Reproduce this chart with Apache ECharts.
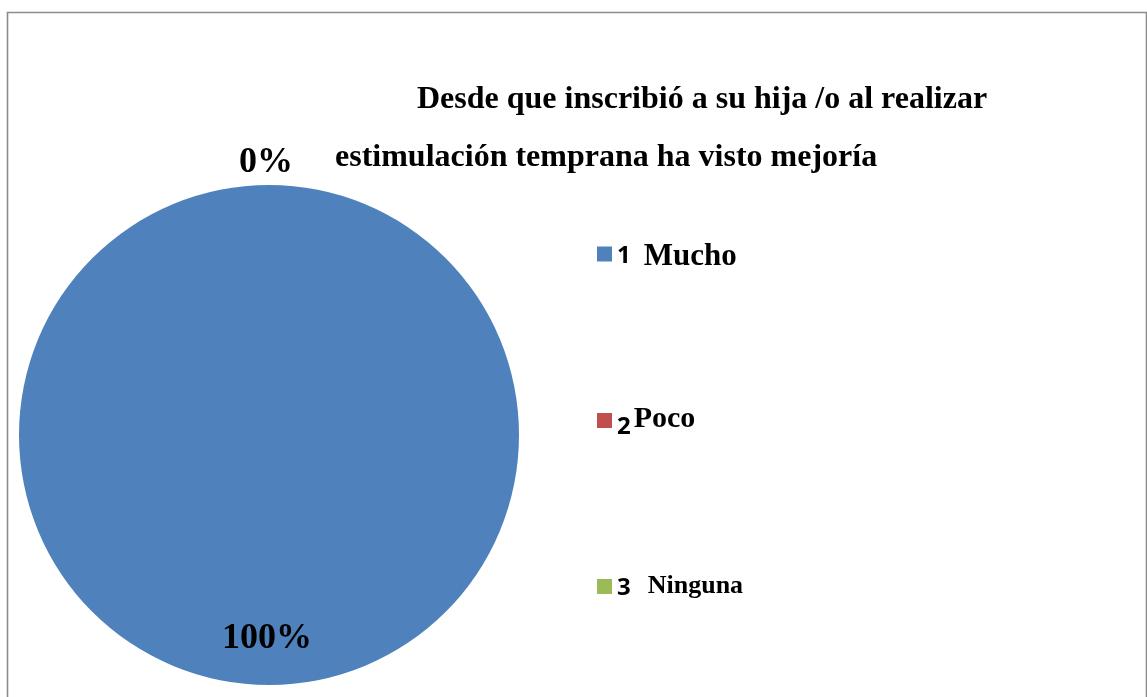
<!DOCTYPE html>
<html>
<head>
<meta charset="utf-8">
<script src="https://cdn.jsdelivr.net/npm/echarts@6/dist/echarts.min.js"></script>
<style>
html,body{margin:0;padding:0;background:#fff;}
#chart{width:1147px;height:697px;}
</style>
</head>
<body>
<div id="chart"></div>
<script>
const categories = ['Mucho', 'Poco', 'Ninguna'];
const numbers = ['1', '2', '3'];
const values = [100, 0, 0];
const colors = ['#4F81BD', '#C0504D', '#9BBB59'];
const titleLines = ['Desde que inscribió a su hija /o al realizar', 'estimulación temprana ha visto mejoría'];

const serif = '"Liberation Serif", "Times New Roman", serif';
const sans = '"Open Sans", "Noto Sans", sans-serif';
const total = values.reduce((a, b) => a + b, 0);

const chart = echarts.init(document.getElementById('chart'));
chart.setOption({
  backgroundColor: '#fff',
  animation: false,
  graphic: [{
    type: 'rect',
    shape: { x: 7.5, y: 12.5, width: 1139, height: 700 },
    style: { fill: 'none', stroke: '#8c8c8c', lineWidth: 1.6 },
    silent: true
  }],
  title: [{
    text: titleLines[0], left: 417, top: 82, padding: 0,
    textStyle: { fontFamily: serif, fontWeight: 'bold', fontSize: 32, lineHeight: 36, color: '#000' }
  }, {
    text: titleLines[1], left: 335, top: 140, padding: 0,
    textStyle: { fontFamily: serif, fontWeight: 'bold', fontSize: 32, lineHeight: 36, color: '#000' }
  }],
  legend: {
    orient: 'vertical',
    left: 597, top: 239,
    padding: 0,
    icon: 'rect',
    itemWidth: 15, itemHeight: 15,
    itemGap: 132,
    selectedMode: false,
    data: categories,
    formatter: function (name) {
      const i = categories.indexOf(name);
      return '{n' + (i + 1) + '|' + numbers[i] + '}{t' + (i + 1) + '|' + name + '}';
    },
    textStyle: {
      lineHeight: 30,
      rich: {
        n1: { fontFamily: sans, fontWeight: 'bold', fontSize: 24, color: '#000', padding: [4, 13, 0, 0] },
        t1: { fontFamily: serif, fontWeight: 'bold', fontSize: 31, color: '#000', padding: [6, 0, 0, 0] },
        n2: { fontFamily: sans, fontWeight: 'bold', fontSize: 24, color: '#000', padding: [14, 3, 0, 0] },
        t2: { fontFamily: serif, fontWeight: 'bold', fontSize: 30, color: '#000', padding: [0, 0, 2, 0] },
        n3: { fontFamily: sans, fontWeight: 'bold', fontSize: 24, color: '#000', padding: [4, 17, 0, 0] },
        t3: { fontFamily: serif, fontWeight: 'bold', fontSize: 26, color: '#000' }
      }
    }
  },
  series: [{
    type: 'pie',
    center: [269, 435],
    radius: 250,
    startAngle: 90,
    clockwise: true,
    avoidLabelOverlap: false,
    color: colors,
    itemStyle: { borderWidth: 0 },
    emphasis: { disabled: true },
    label: {
      show: true,
      position: 'outside',
      formatter: function (p) { return Math.round(p.value / total * 100) + '%'; },
      fontFamily: serif, fontWeight: 'bold', fontSize: 36, color: '#000'
    },
    labelLine: { show: false, length: 25, length2: 0 },
    labelLayout: function (p) {
      if (p.dataIndex === 0) return { dx: -2, dy: 76 };
      return { align: 'center', dx: -8, dy: 3, hideOverlap: true };
    },
    data: categories.map((c, i) => ({
      name: c,
      value: values[i],
      label: i === 0 ? { position: 'inside' } : {}
    }))
  }]
});
</script>
</body>
</html>
